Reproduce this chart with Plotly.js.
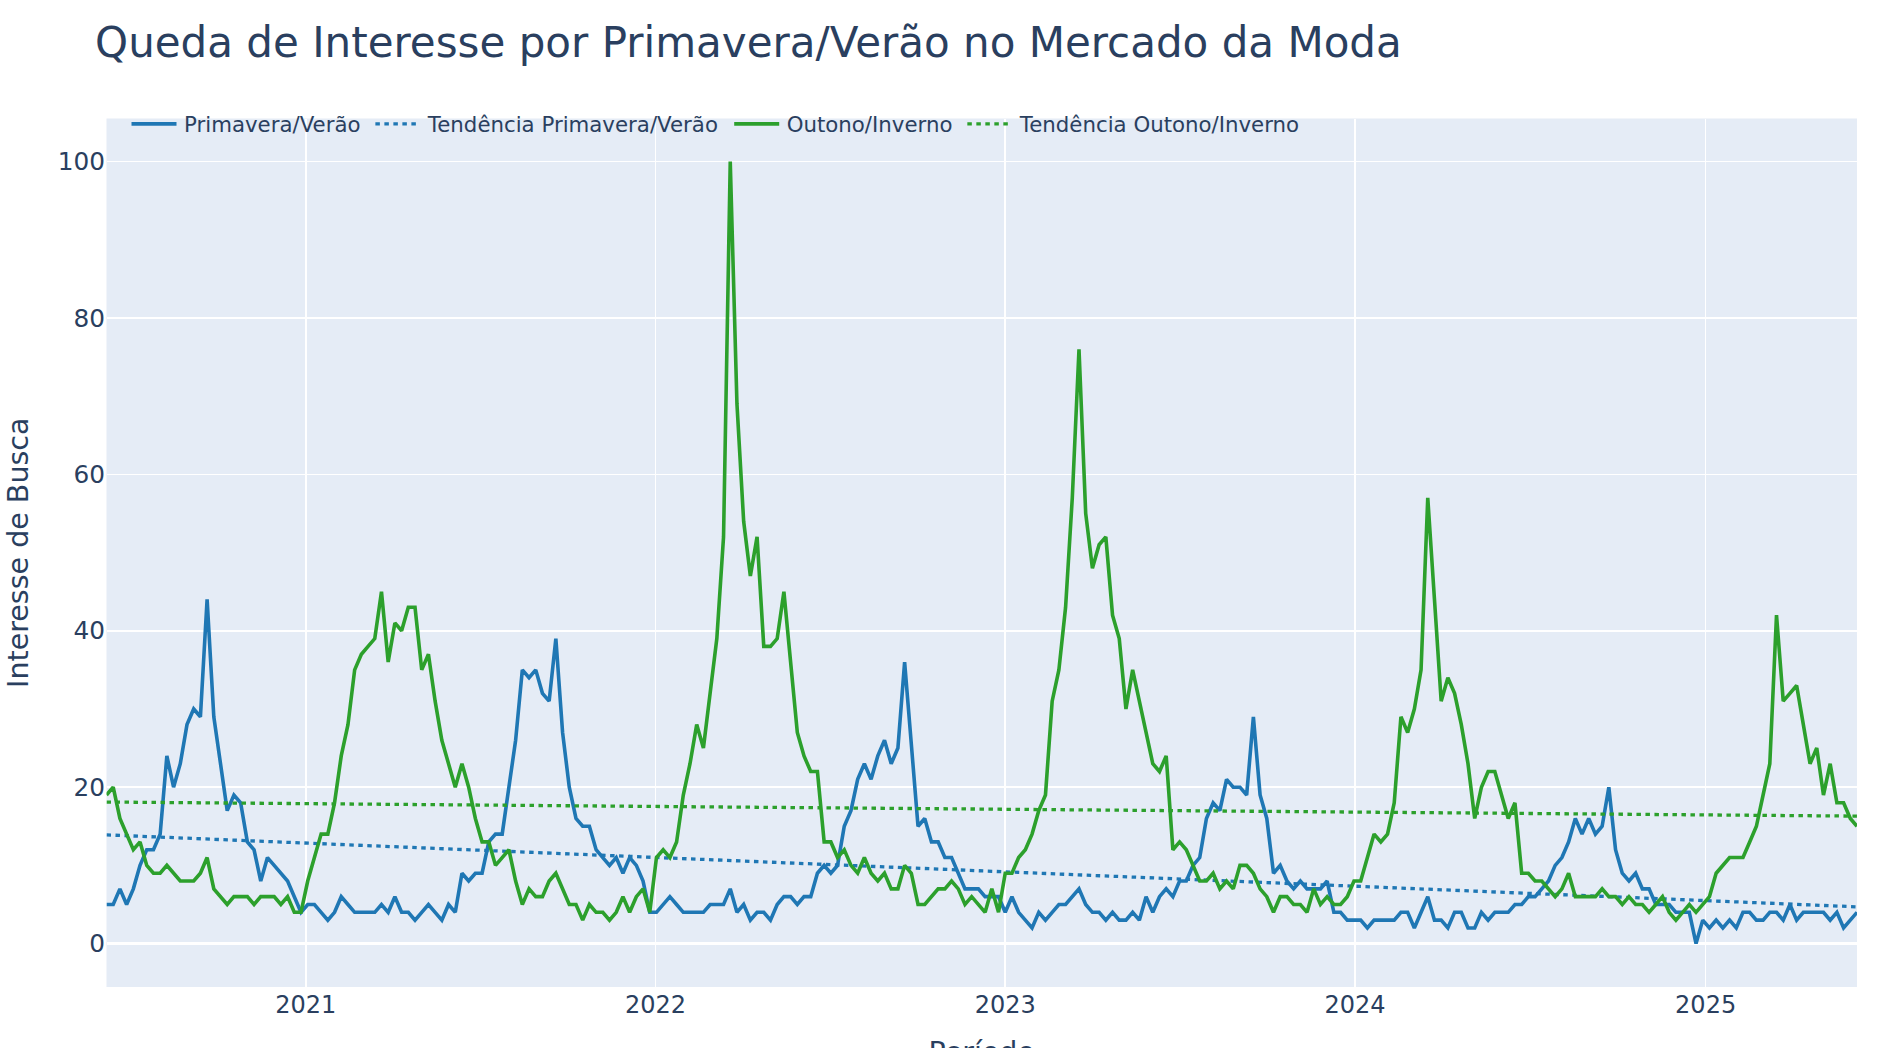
<!DOCTYPE html>
<html>
<head>
<meta charset="utf-8">
<script src="https://cdn.plot.ly/plotly-3.0.1.min.js"></script>
<style>
html,body{margin:0;padding:0;background:#fff;width:1902px;height:1048px;overflow:hidden;}
#chart{width:1268px;height:712px;transform:scale(1.5);transform-origin:0 0;}
</style>
</head>
<body>
<div id="chart"></div>
<script>
// Weekly series, first week 2020-06-07
const startDate = '2020-06-07';

const primaveraVerao = [
  5,5,7,5,7,10,12,12,14,24, 20,23,28,30,29,44,29,23,17,19,
  18,13,12,8,11,10,9,8,6,4, 5,5,4,3,4,6,5,4,4,4,
  4,5,4,6,4,4,3,4,5,4, 3,5,4,9,8,9,9,13,14,14,
  20,26,35,34,35,32,31,39,27,20, 16,15,15,12,11,10,11,9,11,10,
  8,4,4,5,6,5,4,4,4,4, 5,5,5,7,4,5,3,4,4,3,
  5,6,6,5,6,6,9,10,9,10, 15,17,21,23,21,24,26,23,25,36,
  25,15,16,13,13,11,11,9,7,7, 7,6,6,6,4,6,4,3,2,4,
  3,4,5,5,6,7,5,4,4,3, 4,3,3,4,3,6,4,6,7,6,
  8,8,10,11,16,18,17,21,20,20, 19,29,19,16,9,10,8,7,8,7,
  7,7,8,4,4,3,3,3,2,3, 3,3,3,4,4,2,4,6,3,3,
  2,4,4,2,2,4,3,4,4,4, 5,5,6,6,7,8,10,11,13,16,
  14,16,14,15,20,12,9,8,9,7, 7,5,5,5,4,4,4,0,3,2,
  3,2,3,2,4,4,3,3,4,4, 3,5,3,4,4,4,4,3,4,2,
  3,4
];

const outonoInverno = [
  19,20,16,14,12,13,10,9,9,10, 9,8,8,8,9,11,7,6,5,6,
  6,6,5,6,6,6,5,6,4,4, 8,11,14,14,18,24,28,35,37,38,
  39,45,36,41,40,43,43,35,37,31, 26,23,20,23,20,16,13,13,10,11,
  12,8,5,7,6,6,8,9,7,5, 5,3,5,4,4,3,4,6,4,6,
  7,4,11,12,11,13,19,23,28,25, 32,39,52,100,69,54,47,52,38,38,
  39,45,36,27,24,22,22,13,13,11, 12,10,9,11,9,8,9,7,7,10,
  9,5,5,6,7,7,8,7,5,6, 5,4,7,4,9,9,11,12,14,17,
  19,31,35,43,57,76,55,48,51,52, 42,39,30,35,31,27,23,22,24,12,
  13,12,10,8,8,9,7,8,7,10, 10,9,7,6,4,6,6,5,5,4,
  7,5,6,5,5,6,8,8,11,14, 13,14,18,29,27,30,35,57,44,31,
  34,32,28,23,16,20,22,22,19,16, 18,9,9,8,8,7,6,7,9,6,
  6,6,6,7,6,6,5,6,5,5, 4,5,6,4,3,4,5,4,5,6,
  9,10,11,11,11,13,15,19,23,42, 31,32,33,28,23,25,19,23,18,18,
  16,15
];

// Trend lines: values at first and last week
const tendenciaPV = [13.9, 4.7];
const tendenciaOI = [18.1, 16.3];

const seriesNames = ['Primavera/Verão', 'Tendência Primavera/Verão', 'Outono/Inverno', 'Tendência Outono/Inverno'];
const colors = {pv: '#1f77b4', oi: '#2ca02c'};

function weeklyDates(start, n) {
  const out = [];
  const d0 = new Date(start + 'T00:00:00Z');
  for (let i = 0; i < n; i++) {
    const d = new Date(d0.getTime() + i * 7 * 86400000);
    out.push(d.toISOString().slice(0, 10));
  }
  return out;
}
const dates = weeklyDates(startDate, primaveraVerao.length);
const trendX = [dates[0], dates[dates.length - 1]];

const FONT = '"DejaVu Sans", Verdana, sans-serif';

const traces = [
  {x: dates, y: primaveraVerao, name: seriesNames[0], type: 'scatter', mode: 'lines',
   line: {color: colors.pv, width: 2.4}},
  {x: trendX, y: tendenciaPV, name: seriesNames[1], type: 'scatter', mode: 'lines',
   line: {color: colors.pv, width: 2.2, dash: 'dot'}},
  {x: dates, y: outonoInverno, name: seriesNames[2], type: 'scatter', mode: 'lines',
   line: {color: colors.oi, width: 2.4}},
  {x: trendX, y: tendenciaOI, name: seriesNames[3], type: 'scatter', mode: 'lines',
   line: {color: colors.oi, width: 2.2, dash: 'dot'}}
];

const layout = {
  width: 1268, height: 712,
  font: {family: FONT, color: '#2a3f5f', size: 14},
  paper_bgcolor: '#ffffff',
  plot_bgcolor: '#E5ECF6',
  margin: {l: 70.7, r: 30, t: 78.7, b: 53.5},
  title: {text: 'Queda de Interesse por Primavera/Verão no Mercado da Moda',
          font: {family: FONT, size: 28, color: '#2a3f5f'},
          x: 0.05, xanchor: 'left', xref: 'container',
          y: 1 - 28 / 712, yanchor: 'middle', yref: 'container'},
  showlegend: true,
  legend: {orientation: 'h', x: 0.01, xanchor: 'left', y: 1.021, yanchor: 'top',
           bgcolor: 'rgba(0,0,0,0)', font: {family: FONT, size: 14.2, color: '#2a3f5f'}},
  xaxis: {type: 'date', title: {text: 'Período', font: {size: 19}, standoff: 30},
          tickfont: {size: 16}, gridcolor: '#ffffff', showline: false, zeroline: false,
          range: [dates[0], dates[dates.length - 1]], dtick: 'M12', tick0: '2021-01-01',
          tickformat: '%Y'},
  yaxis: {title: {text: 'Interesse de Busca', font: {size: 19}, standoff: 13.5},
          tickfont: {size: 16.5}, gridcolor: '#ffffff', zeroline: true, zerolinecolor: '#ffffff',
          zerolinewidth: 2, range: [-5.55, 105.5], dtick: 20}
};

Plotly.newPlot('chart', traces, layout, {displayModeBar: false, responsive: false});
</script>
</body>
</html>
